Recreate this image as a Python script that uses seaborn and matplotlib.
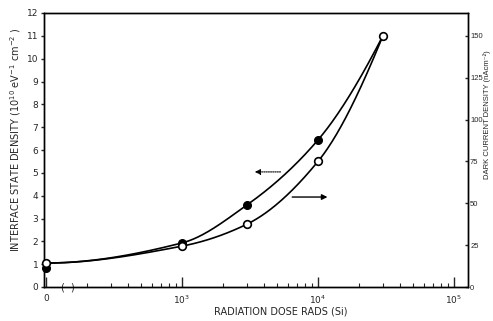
import numpy as np
import pandas as pd
import matplotlib
matplotlib.use("Agg")
import matplotlib.pyplot as plt
import seaborn as sns
from matplotlib.ticker import FixedLocator, NullFormatter

# ---- data ----
dose = [100, 1e3, 3e3, 1e4, 3e4]          # "0" dose is placed at the 10^2 position of the log axis
interface_state = [0.83, 1.93, 3.59, 6.44, 11.0]   # left axis, 10^10 eV^-1 cm^-2 (filled)
dark_current = [14.3, 24.4, 37.5, 75.0, 150.0]     # right axis, nA cm^-2 (open)
left_ticks = list(range(0, 13))
right_ticks = [0, 25, 50, 75, 100, 125, 150]
x_ticks = [100, 1e3, 1e4, 1e5]
x_ticklabels = ["0", "$10^3$", "$10^4$", "$10^5$"]

sns.set_style("ticks")
plt.rcParams["font.family"] = ["DejaVu Sans"]
plt.rcParams["mathtext.fontset"] = "dejavusans"
NARROW = ["Liberation Sans Narrow", "Liberation Sans", "DejaVu Sans"]

W, H = 493, 321
fig = plt.figure(figsize=(W/100, H/100), dpi=100)
L, R, T, B = 44, 468, 13, 287
ax = fig.add_axes([L/W, 1-B/H, (R-L)/W, (B-T)/H])
ax2 = ax.twinx()

LMAX = 12.0
RMAX = 150.0 / 11.0 * LMAX
scale = RMAX / LMAX


def pchip(xk, yk, xs):
    xk = np.asarray(xk, float); yk = np.asarray(yk, float)
    h = np.diff(xk); d = np.diff(yk) / h
    n = len(xk); m = np.zeros(n)
    for i in range(1, n - 1):
        if d[i-1] * d[i] > 0:
            w1 = 2*h[i] + h[i-1]; w2 = h[i] + 2*h[i-1]
            m[i] = (w1 + w2) / (w1/d[i-1] + w2/d[i])
    m[0] = ((2*h[0] + h[1])*d[0] - h[0]*d[1]) / (h[0] + h[1])
    if m[0]*d[0] <= 0: m[0] = 0
    m[-1] = ((2*h[-1] + h[-2])*d[-1] - h[-1]*d[-2]) / (h[-1] + h[-2])
    if m[-1]*d[-1] <= 0: m[-1] = 0
    out = np.empty_like(xs)
    for j, x in enumerate(xs):
        i = min(max(np.searchsorted(xk, x) - 1, 0), n - 2)
        t = (x - xk[i]) / h[i]
        h00 = 2*t**3 - 3*t**2 + 1; h10 = t**3 - 2*t**2 + t
        h01 = -2*t**3 + 3*t**2; h11 = t**3 - t**2
        out[j] = h00*yk[i] + h10*h[i]*m[i] + h01*yk[i+1] + h11*h[i]*m[i+1]
    return out

lx = np.log10(dose)
xs = np.linspace(lx[0], lx[-1], 300)
# both curves start at the common zero-dose point (open circle)
start_left = dark_current[0] / scale
curve_f = pchip(lx, [start_left] + interface_state[1:], xs)
curve_o = pchip(lx, dark_current, xs)

df_f = pd.DataFrame({"x": 10**xs, "y": curve_f})
df_o = pd.DataFrame({"x": 10**xs, "y": curve_o})
pts_f = pd.DataFrame({"x": dose, "y": interface_state})
pts_o = pd.DataFrame({"x": dose, "y": dark_current})

sns.lineplot(data=df_f, x="x", y="y", ax=ax, color="black", lw=1.2, sort=False)
sns.lineplot(data=df_o, x="x", y="y", ax=ax2, color="black", lw=1.2, sort=False)
ax.plot(pts_f["x"][:-1], pts_f["y"][:-1], "o", color="black", ms=5.5, zorder=5, clip_on=False)
ax2.plot(pts_o["x"], pts_o["y"], "o", mfc="white", mec="black", mew=1.2, ms=5.5, zorder=6, clip_on=False)

ax.set_xscale("log")
# decade = 136 px; 10^3 at x=182
xlo = 10**(3 - (182 - L)/136)
xhi = 10**(3 + (R - 182)/136)
ax.set_xlim(xlo, xhi)
ax.set_ylim(0, LMAX)
ax2.set_ylim(0, RMAX)

ax.xaxis.set_major_locator(FixedLocator(x_ticks))
ax.set_xticklabels(x_ticklabels)
ax.xaxis.set_minor_locator(FixedLocator(
    [s*10**e for e in (2, 3, 4) for s in range(2, 10) if s*10**e < 1e5]))
ax.xaxis.set_minor_formatter(NullFormatter())
ax.tick_params(axis="x", which="major", direction="in", length=7, width=1, labelsize=6.5, pad=5)
ax.tick_params(axis="x", which="minor", direction="in", length=3, width=0.8)

ax.set_yticks(left_ticks)
ax.tick_params(axis="y", direction="out", length=2.5, width=1, labelsize=6.5, pad=1.5)
ax2.set_yticks(right_ticks)
ax2.tick_params(axis="y", direction="in", length=2.5, width=1, labelsize=5.5, pad=1.5)
for lab in ax2.get_yticklabels():
    lab.set_family(NARROW)

for a in (ax, ax2):
    for s in a.spines.values():
        s.set_visible(True)
        s.set_linewidth(1.0)
        s.set_color("black")

ax.set_ylabel(""); ax2.set_ylabel(""); ax.set_xlabel("")
fig.text(16/W, 1-140/H, "INTERFACE STATE DENSITY (10$^{10}$ eV$^{-1}$ cm$^{-2}$ )",
         rotation=90, ha="center", va="center", fontsize=7)
fig.text(487/W, 1-115/H, "DARK CURRENT DENSITY (nAcm⁻²)",
         rotation=90, ha="center", va="center", fontsize=5.5, family=NARROW)
fig.text(281/W, 1-311/H, "RADIATION DOSE RADS (Si)", ha="center", va="center", fontsize=7)

# axis break marks
ax.text(10**2.12, 0, "(", ha="center", va="center", fontsize=7, clip_on=False)
ax.text(10**2.19, 0, ")", ha="center", va="center", fontsize=7, clip_on=False)

# arrows indicating axes
ax.annotate("", xy=(10**3.515, 5.04), xytext=(10**3.745, 5.04),
            arrowprops=dict(arrowstyle="-|>", color="black", lw=0.8, ls=(0, (1, 1)),
                            mutation_scale=8))
ax.annotate("", xy=(10**4.09, 3.94), xytext=(10**3.79, 3.94),
            arrowprops=dict(arrowstyle="-|>", color="black", lw=1.0, mutation_scale=8))

ax.grid(False); ax2.grid(False)
fig.savefig("out.png", dpi=100)
